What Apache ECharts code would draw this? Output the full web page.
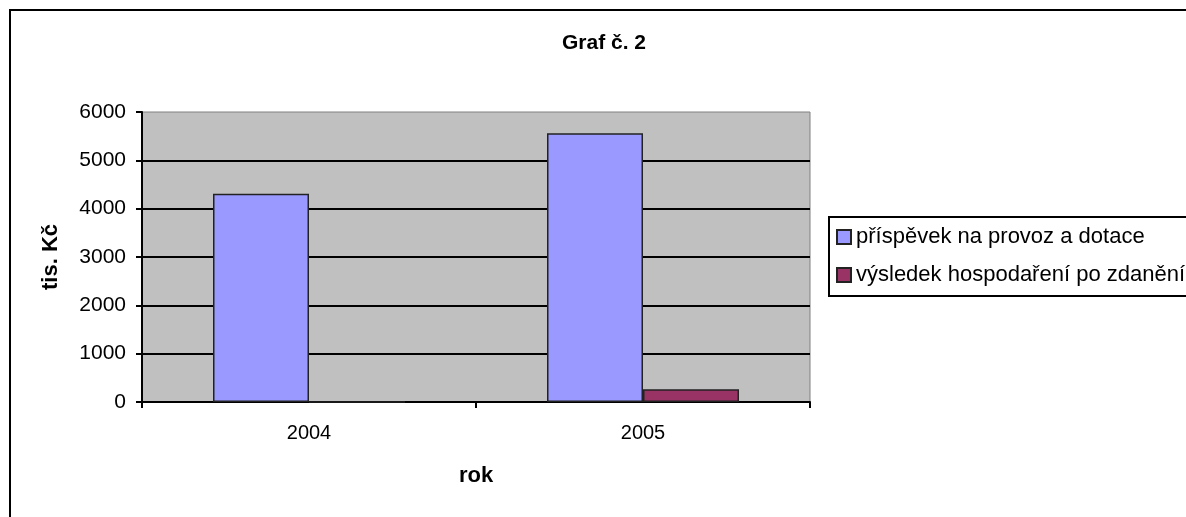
<!DOCTYPE html>
<html><head><meta charset="utf-8">
<script src="https://cdn.jsdelivr.net/npm/echarts@6/dist/echarts.min.js"></script>
<style>html,body{margin:0;padding:0;background:#fff}#c{width:1186px;height:517px}</style>
</head><body><div id="c"></div>
<script>
const categories = ['2004', '2005'];
const seriesNames = ['příspěvek na provoz a dotace', 'výsledek hospodaření po zdanění'];
const contribution = [4310, 5560];
const result = [0, 265];
const yTicks = [0, 1000, 2000, 3000, 4000, 5000, 6000];

const chart = echarts.init(document.getElementById('c'), null, {renderer: 'canvas'});
const font = '"Liberation Sans", Arial, sans-serif';
chart.setOption({
  animation: false,
  backgroundColor: '#fff',
  textStyle: {fontFamily: font, color: '#000'},
  title: {
    text: 'Graf č. 2', left: 599, top: 28, textAlign: 'center',
    textStyle: {fontFamily: font, fontSize: 21, fontWeight: 'bold', color: '#000'}
  },
  graphic: [{
    type: 'rect', shape: {x: 10, y: 10, width: 1200, height: 600},
    style: {fill: 'none', stroke: '#000', lineWidth: 2}, silent: true, z: 100
  }],
  legend: {
    orient: 'vertical', left: 829, top: 217,
    data: seriesNames,
    icon: 'rect', itemWidth: 14, itemHeight: 14, itemGap: 14,
    padding: [8, 6, 9, 7],
    borderColor: '#000', borderWidth: 2,
    textStyle: {fontFamily: font, fontSize: 22, color: '#000', lineHeight: 24}
  },
  grid: {left: 142, right: 376, top: 112, bottom: 115,
    show: true, backgroundColor: '#C0C0C0', borderColor: '#808080', borderWidth: 1},
  xAxis: {
    type: 'category', data: categories,
    name: 'rok', nameLocation: 'middle', nameGap: 63,
    nameTextStyle: {fontFamily: font, fontSize: 22, fontWeight: 'bold', color: '#000'},
    axisLine: {lineStyle: {color: '#000', width: 2}},
    axisTick: {show: true, length: 6, lineStyle: {color: '#000', width: 2}},
    axisLabel: {fontFamily: font, fontSize: 20, color: '#000', margin: 21}
  },
  yAxis: {
    type: 'value', min: yTicks[0], max: yTicks[yTicks.length - 1], interval: 1000,
    name: 'tis. Kč', nameLocation: 'middle', nameGap: 80,
    nameTextStyle: {fontFamily: font, fontSize: 22, fontWeight: 'bold', color: '#000'},
    axisLine: {show: true, lineStyle: {color: '#000', width: 2}},
    axisTick: {show: true, length: 6, lineStyle: {color: '#000', width: 2}},
    axisLabel: {fontFamily: font, fontSize: 21, color: '#000', margin: 16,
      formatter: function (v) { return String(v); }},
    splitLine: {show: true, showMaxLine: false, lineStyle: {color: '#000', width: 2}}
  },
  series: [
    {name: seriesNames[0], type: 'bar', data: contribution,
      barWidth: 96, barGap: '0%',
      itemStyle: {color: '#9999FF', borderColor: '#222', borderWidth: 1.5}},
    {name: seriesNames[1], type: 'bar', data: result,
      barWidth: 96,
      itemStyle: {color: '#993366', borderColor: '#222', borderWidth: 1.5}}
  ]
});
</script></body></html>
